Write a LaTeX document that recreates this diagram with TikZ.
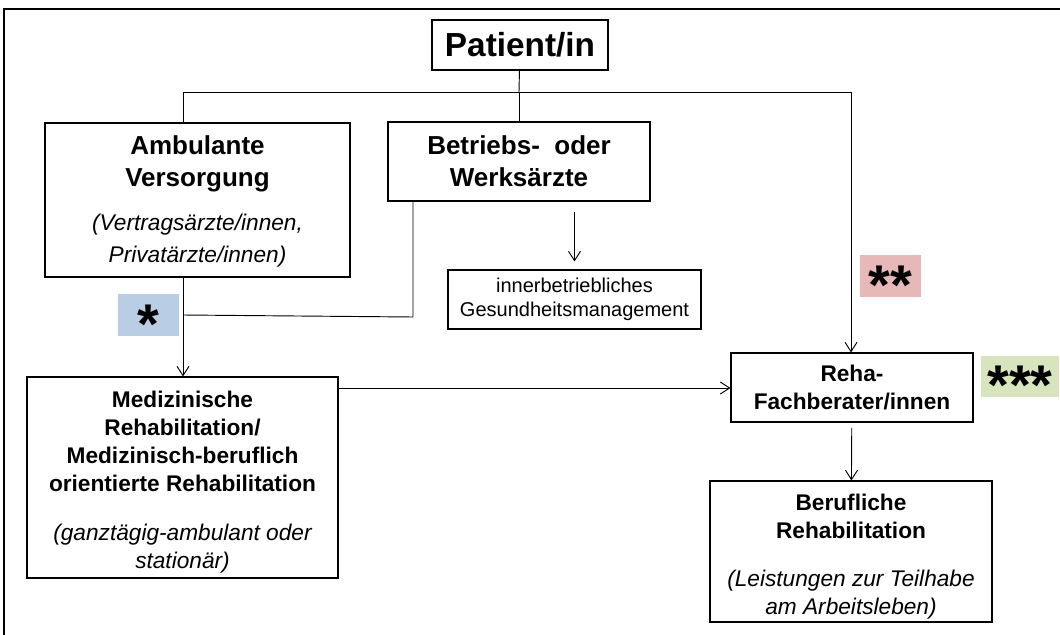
\documentclass[tikz,border=0pt]{standalone}
\usepackage{fontspec}
\setmainfont{Liberation Sans}
\usetikzlibrary{arrows.meta}

\definecolor{sternblau}{HTML}{B9CDE5}
\definecolor{sternrot}{HTML}{E6B9B8}
\definecolor{sterngruen}{HTML}{D7E4BD}

\newcommand{\grossfett}{\fontsize{19.5}{24}\selectfont\bfseries}
\newcommand{\fett}{\fontsize{17}{21}\selectfont\bfseries}
\newcommand{\kursiv}{\fontsize{17}{20.5}\selectfont\mdseries\itshape}
\newcommand{\klein}{\fontsize{15}{18}\selectfont}

\begin{document}
\begin{tikzpicture}[x=0.75pt, y=-0.75pt, >={Straight Barb[length=7pt,width=9pt]},
    kasten/.style={draw, line width=0.8pt, inner sep=0pt, align=center},
    stern/.style={inner sep=0pt, text height=0pt, text depth=0pt,
        font=\fontsize{42}{42}\selectfont\bfseries},
    linie/.style={line width=0.7pt}]
    \useasboundingbox (0,0) rectangle (1060,635);

    % 1. Rahmen
    \draw[line width=1pt] (4,635) -- (4,9) -- (1060,9);

    % 2. Kästen
    \node[kasten, minimum width=132pt, minimum height=37.5pt,
        font=\fontsize{25}{30}\selectfont\bfseries] (patient) at (520,45) {Patient/in};
    \node[kasten, minimum width=228.75pt, minimum height=115.5pt, font=\grossfett]
        (ambulant) at (197.5,200)
        {\rule{0pt}{17pt}Ambulante\\Versorgung\\[9pt]\kursiv(Vertragsärzte/innen,\\\kursiv Privatärzte/innen)};
    \node[kasten, minimum width=196.5pt, minimum height=59.25pt, font=\grossfett]
        (betrieb) at (519,161.5) {Betriebs-\ \ oder\\Werksärzte};
    \node[kasten, minimum width=189.75pt, minimum height=44.25pt, font=\klein]
        (bgm) at (574.5,299.5) {innerbetriebliches\\Gesundheitsmanagement};
    \node[kasten, minimum width=233.25pt, minimum height=150.75pt, font=\fett]
        (medreha) at (182.5,477.5)
        {\rule{0pt}{19.5pt}Medizinische\\Rehabilitation/\\Medizinisch-beruflich\\orientierte Rehabilitation\\[16pt]%
         \kursiv(ganztägig-ambulant oder\\\kursiv stationär)};
    \node[kasten, minimum width=181.5pt, minimum height=51.75pt, font=\fett]
        (fachberater) at (852,387.5) {Reha-\\Fachberater/innen};
    \node[kasten, minimum width=211.5pt, minimum height=105.75pt, font=\fett]
        (berufreha) at (851,551.5)
        {\rule{0pt}{19.5pt}Berufliche\\Rehabilitation\\[15pt]\kursiv(Leistungen zur Teilhabe\\\kursiv am Arbeitsleben)};

    % 3. Sterne
    \node[stern, fill=sternblau, minimum width=45.75pt, minimum height=31.5pt]
        (stern1) at (148.5,315) {\raisebox{-0.5em}{*}};
    \node[stern, fill=sternrot, minimum width=45.75pt, minimum height=31.5pt]
        (stern2) at (890.5,276) {\raisebox{-0.5em}{**}};
    \node[stern, fill=sterngruen, minimum width=58.5pt, minimum height=30.75pt]
        (stern3) at (1020,376.5) {\raisebox{-0.5em}{***}};

    % 4. Verbindungen
    \coordinate (mitte) at (519,92);
    \coordinate (links) at (183,92);
    \coordinate (rechts) at (851,92);
    \coordinate (knick) at (413,317);
    \coordinate (treff) at (183,315);

    \draw[linie] (patient) -- (mitte);
    \draw[linie] (links) -- (rechts);
    \draw[linie] (links) -- (links |- ambulant.north);
    \draw[linie] (mitte) -- (betrieb);
    \draw[linie, ->] (rechts) -- (rechts |- fachberater.north);
    \draw[linie, ->, shorten <=8pt, shorten >=6pt] (betrieb.south -| bgm) -- (bgm);
    \draw[linie] (betrieb.south -| knick) -- (knick) -- (treff);
    \draw[linie] (ambulant.south -| treff) -- (treff);
    \draw[linie, ->] (treff) -- (treff |- medreha.north);
    \draw[linie, ->] (medreha.east |- 0,388) -- (fachberater.west |- 0,388);
    \draw[linie, ->, shorten <=4pt] (fachberater) -- (berufreha);
\end{tikzpicture}
\end{document}
